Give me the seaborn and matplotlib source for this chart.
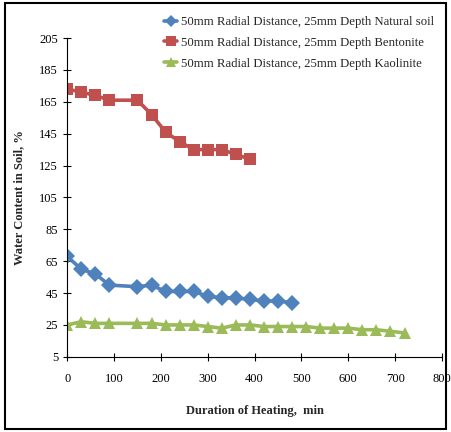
import matplotlib
matplotlib.use("Agg")
import matplotlib.pyplot as plt
import seaborn as sns
import pandas as pd
from matplotlib.patches import Rectangle

natural_x = [0, 30, 60, 90, 150, 180, 210, 240, 270, 300, 330, 360, 390, 420, 450, 480]
natural_y = [68, 60, 57, 50, 49, 50, 46, 46, 46, 43, 42, 42, 41, 40, 40, 39]

bentonite_x = [0, 30, 60, 90, 150, 180, 210, 240, 270, 300, 330, 360, 390]
bentonite_y = [173, 171, 169, 166, 166, 157, 146, 140, 135, 135, 135, 132, 129]

kaolinite_x = [0, 30, 60, 90, 150, 180, 210, 240, 270, 300, 330, 360, 390, 420,
               450, 480, 510, 540, 570, 600, 630, 660, 690, 720]
kaolinite_y = [25, 27, 26, 26, 26, 26, 25, 25, 25, 24, 23, 25, 25, 24,
               24, 24, 24, 23, 23, 23, 22, 22, 21, 20]

labels = ["50mm Radial Distance, 25mm Depth Natural soil",
          "50mm Radial Distance, 25mm Depth Bentonite",
          "50mm Radial Distance, 25mm Depth Kaolinite"]
x_ticks = [0, 100, 200, 300, 400, 500, 600, 700, 800]
y_ticks = [5, 25, 45, 65, 85, 105, 125, 145, 165, 185, 205]

df = pd.concat([
    pd.DataFrame({"x": natural_x, "y": natural_y, "s": labels[0]}),
    pd.DataFrame({"x": bentonite_x, "y": bentonite_y, "s": labels[1]}),
    pd.DataFrame({"x": kaolinite_x, "y": kaolinite_y, "s": labels[2]}),
])

sns.set_style("white")
plt.rcParams["font.family"] = ["Liberation Serif", "DejaVu Serif"]

fig = plt.figure(figsize=(4.51, 4.32), dpi=100)
ax = fig.add_axes([0.149, 0.174, 0.831, 0.738])

palette = {labels[0]: "#4F81BD", labels[1]: "#C0504D", labels[2]: "#9BBB59"}
markers = {labels[0]: "D", labels[1]: "s", labels[2]: "^"}
sns.lineplot(data=df, x="x", y="y", hue="s", style="s", palette=palette,
             markers=markers, dashes=False, markersize=8.5, linewidth=2.6,
             markeredgewidth=0, ax=ax)

ax.set_xlim(0, 800)
ax.set_ylim(5, 205)
ax.set_xticks(x_ticks)
ax.set_yticks(y_ticks)
ax.tick_params(axis="both", direction="inout", length=6, width=0.8,
               labelsize=9, colors="black", left=True, bottom=True)
ax.tick_params(axis="x", pad=9)
for side in ["top", "right"]:
    ax.spines[side].set_visible(False)
for side in ["left", "bottom"]:
    ax.spines[side].set_color("black")
    ax.spines[side].set_linewidth(0.8)

ax.set_xlabel("Duration of Heating,  min", fontsize=9, fontweight="bold", labelpad=14)
ax.set_ylabel("Water Content in Soil, %", fontsize=9, fontweight="bold", labelpad=10)

leg = ax.legend(loc="upper left", bbox_to_anchor=(0.245, 1.085), frameon=False,
                fontsize=9.2, handlelength=1.0, handletextpad=0.3,
                labelspacing=0.7, borderaxespad=0)
for h in leg.legend_handles:
    h.set_markersize(6.5)

fig.patches.append(Rectangle((0.01, 0.007), 0.98, 0.986, transform=fig.transFigure,
                             fill=False, edgecolor="black", linewidth=1.5))

fig.savefig("out.png", dpi=100)
